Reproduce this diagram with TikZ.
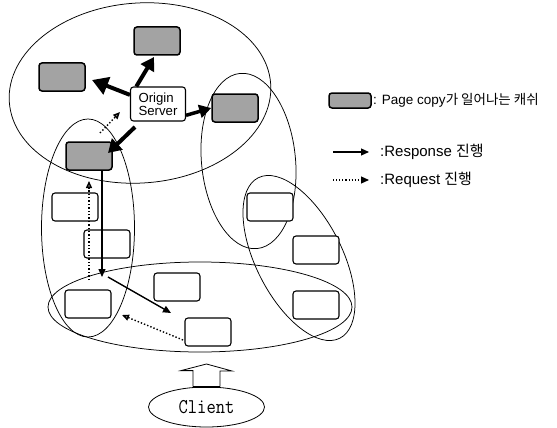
\documentclass[tikz,border=0pt]{standalone}
\usepackage{fontspec}
\setmainfont{Liberation Sans}
\newfontfamily\krfont{Noto Sans CJK KR}
\newfontfamily\clientfont{Latin Modern Mono}[FakeStretch=0.86]
\usetikzlibrary{arrows.meta,shapes.geometric}

\begin{document}
\begin{tikzpicture}[x=1pt,y=-1pt,
  cache/.style={draw, rounded corners=3pt, line width=1.1pt, fill=white,
    minimum width=46pt, minimum height=28pt, inner sep=0pt},
  copybox/.style={cache, fill=black!36, line width=1.5pt},
  group/.style={draw, line width=0.75pt},
  bigarrow/.style={line width=4pt, -{Triangle[length=13pt,width=15pt]}},
  resp/.style={line width=1.4pt, -{Triangle[length=8pt,width=7pt]}},
  req/.style={line width=1.4pt, dotted, -{Triangle[length=7pt,width=6pt,fill=black!45]}},
  legtext/.style={anchor=west, inner sep=0pt},
]
\useasboundingbox (0,0) rectangle (557,428);

% cache groups
\draw[group] (140,93) ellipse [x radius=131pt, y radius=90pt, rotate=4];
\draw[group] (88,228) ellipse [x radius=46.5pt, y radius=109pt];
\draw[group] (248.5,161) ellipse [x radius=47pt, y radius=88pt, rotate=5.5];
\draw[group] (299,258) ellipse [x radius=43pt, y radius=90pt, rotate=27];
\draw[group] (200,307) ellipse [x radius=152pt, y radius=45pt];

% caches holding a page copy
\node[copybox] (g1) at (157,41) {};
\node[copybox] (g2) at (62,77) {};
\node[copybox] (g3) at (235,108) {};
\node[copybox] (g4) at (89,156) {};

% origin server
\node[cache, minimum width=55pt, minimum height=34pt, align=left,
  font=\fontsize{13.2}{13}\selectfont] (os) at (158,104) {Origin\\Server};

% ordinary caches
\node[cache] (b1) at (75,207) {};
\node[cache] (b2) at (107,244) {};
\node[cache] (b3) at (88,304) {};
\node[cache] (b4) at (177,287) {};
\node[cache] (b5) at (208,332) {};
\node[cache] (b6) at (270,207) {};
\node[cache] (b7) at (316,250) {};
\node[cache] (b8) at (316,305) {};

% page copies pushed out from the origin server
\coordinate (t1) at (92,80);
\coordinate (t2) at (154,57);
\coordinate (s4) at (135,127);
\coordinate (t4) at (108,153);
\draw[bigarrow, -{Triangle[length=16pt,width=18pt]}] (os.162) -- (t1);
\draw[bigarrow] (os.141) -- (t2);
\draw[line width=3.5pt, -{Triangle[length=12pt,width=13pt]}] (os.-22) -- (g3.west);
\draw[bigarrow] (s4) -- (t4);

% request / response paths
\coordinate (q1) at (100,133);
\coordinate (q2) at (120,112);
\draw[req] (q1) -- (q2);

\coordinate (r0) at (102,170);
\coordinate (r1) at (102,277);
\draw[resp] (r0) -- (r1);
\coordinate (u0) at (89,280);
\coordinate (u1) at (89,181);
\draw[req] (u0) -- (u1);

\coordinate (r2) at (108,277);
\coordinate (r3) at (171,313);
\draw[resp] (r2) -- (r3);
\coordinate (u2) at (183,340);
\coordinate (u3) at (122,315);
\draw[req] (u2) -- (u3);

% client
\node[draw, ellipse, line width=0.8pt, minimum width=116pt, minimum height=40pt,
  inner sep=0pt, font=\fontsize{21}{21}\clientfont] (client) at (206.5,407) {Client};
\draw[line width=0.8pt] ([xshift=-13.5pt]client.north) -- ++(0,-16) -- ++(-12,0)
  -- (206.5,364) -- (232,371) -- ++(-12,0) -- ([xshift=13.5pt]client.north);
\draw[line width=2pt] ([xshift=-13.5pt]client.north) -- ([xshift=13.5pt]client.north);

% legend
\node[copybox, minimum width=42pt, minimum height=15pt] (lgbox) at (350,100.5) {};
\node[legtext, font=\fontsize{13.5}{13.5}\selectfont] (lgtxt) at (373,100.5)
  {: Page copy{\krfont 가 일어나는 캐쉬}};
\coordinate (lr0) at (333,152);
\coordinate (lr1) at (369,152);
\draw[line width=1.1pt, -{Triangle[length=8pt,width=7pt]}] (lr0) -- (lr1);
\node[legtext, font=\fontsize{15}{15}\selectfont] (lgresp) at (380,152)
  {:Response {\krfont 진행}};
\coordinate (lq0) at (333,180);
\coordinate (lq1) at (369,180);
\draw[line width=1.1pt, dotted, -{Triangle[length=8pt,width=7pt,fill=black]}] (lq0) -- (lq1);
\node[legtext, font=\fontsize{15}{15}\selectfont] (lgreq) at (380,180)
  {:Request {\krfont 진행}};
\end{tikzpicture}
\end{document}
